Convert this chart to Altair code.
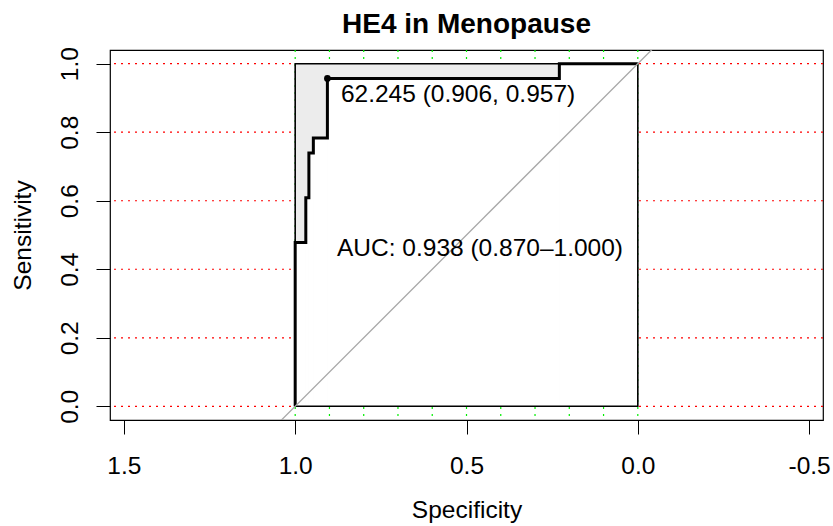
import altair as alt
import pandas as pd

# ROC curve (specificity, sensitivity) step points
spec = [1.0, 1.0, 0.969, 0.969, 0.960, 0.960, 0.947, 0.947, 0.906, 0.906, 0.229, 0.229, 0.0]
sens = [0.0, 0.478, 0.478, 0.609, 0.609, 0.739, 0.739, 0.783, 0.783, 0.957, 0.957, 1.0, 1.0]

# best threshold
thr_spec = [0.906]
thr_sens = [0.957]
thr_label = ["62.245 (0.906, 0.957)"]

# AUC annotation
auc_x = [0.878]
auc_y = [0.439]
auc_label = ["AUC: 0.938 (0.870\u20131.000)"]

# grid
grid_h = [0.0, 0.2, 0.4, 0.6, 0.8, 1.0]
grid_v = [0.0, 0.1, 0.2, 0.3, 0.4, 0.5, 0.6, 0.7, 0.8, 0.9, 1.0]

# axis ticks
x_ticks = [1.5, 1.0, 0.5, 0.0, -0.5]
y_ticks = [0.0, 0.2, 0.4, 0.6, 0.8, 1.0]

# square of max AUC
sq_x = [1.0]
sq_x2 = [0.0]
sq_y = [0.0]
sq_y2 = [1.0]

# diagonal reference line (sens = 1 - spec)
diag_x = [1.6, -0.6]
diag_y = [-0.6, 1.6]

FONT = "Liberation Sans"
FS = 24.5

xs = alt.Scale(domain=[-0.5405, 1.5405], reverse=True, nice=False, zero=False)
ys = alt.Scale(domain=[-0.04, 1.04], nice=False, zero=False)

curve_df = pd.DataFrame({"x": spec, "y": sens, "idx": list(range(len(spec)))})

# under-curve region as steps built from the curve's horizontal segments
seg_rows = []
for i in range(len(spec) - 1):
    if sens[i] == sens[i + 1] and spec[i] != spec[i + 1]:
        seg_rows.append({"x": spec[i], "x2": spec[i + 1], "y": 0.0, "y2": sens[i]})
seg_df = pd.DataFrame(seg_rows)

x_axis = alt.Axis(
    values=x_ticks, grid=False, domain=False, ticks=True, tickSize=14, tickColor="black", tickWidth=1,
    labelExpr="datum.value < 0 ? '-' + format(-datum.value, '.1f') : format(datum.value, '.1f')",
    labelFont=FONT, labelFontSize=FS, labelColor="black", labelBaseline="alphabetic", labelPadding=39,
    labelOverlap=False, labelFlush=False, labelBound=False,
    title="Specificity", titleFont=FONT, titleFontSize=FS, titleFontWeight="normal", titleColor="black",
    titleX=356.5, titleY=97, titleBaseline="alphabetic", titleAlign="center",
)
y_axis = alt.Axis(
    values=y_ticks, grid=False, domain=False, ticks=True, tickSize=14, tickColor="black", tickWidth=1,
    format=".1f", labelAngle=270, labelAlign="center", labelBaseline="alphabetic", labelPadding=19,
    labelFont=FONT, labelFontSize=FS, labelColor="black", labelOverlap=False, labelFlush=False, labelBound=False,
    title="Sensitivity", titleFont=FONT, titleFontSize=FS, titleFontWeight="normal", titleColor="black",
    titleAngle=270, titleX=-80, titleY=185, titleBaseline="alphabetic", titleAlign="center",
)


def X(f="x"):
    return alt.X(f"{f}:Q", scale=xs, axis=x_axis)


def Y(f="y"):
    return alt.Y(f"{f}:Q", scale=ys, axis=y_axis)


hlines = alt.Chart(pd.DataFrame({"y": grid_h})).mark_rule(
    color="#FF0000", strokeWidth=1.2, strokeDash=[2, 5]
).encode(y=Y())

vlines = alt.Chart(pd.DataFrame({"x": grid_v})).mark_rule(
    color="#00EE00", strokeWidth=1.2, strokeDash=[2, 5]
).encode(x=X())

sq_df = pd.DataFrame({"x": sq_x, "x2": sq_x2, "y": sq_y, "y2": sq_y2})
square_fill = alt.Chart(sq_df).mark_rect(fill="#ECECEC", strokeWidth=0, opacity=1).encode(
    x=X(), x2="x2:Q", y=Y(), y2="y2:Q",
)

auc_area = alt.Chart(seg_df).mark_rect(fill="white", stroke="white", strokeWidth=0.6, opacity=1).encode(
    x=X(), x2="x2:Q", y=Y(), y2="y2:Q",
)

square_line = alt.Chart(sq_df).mark_rect(fillOpacity=0, stroke="black", strokeWidth=1.6).encode(
    x=X(), x2="x2:Q", y=Y(), y2="y2:Q",
)

curve = alt.Chart(curve_df).mark_line(color="black", strokeWidth=3, interpolate="linear").encode(
    x=X(), y=Y(), order="idx:Q",
)

diag = alt.Chart(pd.DataFrame({"x": diag_x, "y": diag_y})).mark_line(
    color="#A8A8A8", strokeWidth=1.3, clip=True
).encode(x=X(), y=Y())

thr_df = pd.DataFrame({"x": thr_spec, "y": thr_sens, "label": thr_label})
thr_pt = alt.Chart(thr_df).mark_circle(color="black", size=45, opacity=1).encode(x=X(), y=Y())
thr_txt = alt.Chart(thr_df).mark_text(
    align="left", baseline="alphabetic", dx=13.5, dy=24, font=FONT, fontSize=FS, color="black"
).encode(x=X(), y=Y(), text="label:N")

auc_txt = alt.Chart(pd.DataFrame({"x": auc_x, "y": auc_y, "label": auc_label})).mark_text(
    align="left", baseline="alphabetic", font=FONT, fontSize=FS, color="black"
).encode(x=X(), y=Y(), text="label:N")

chart = alt.layer(
    hlines, vlines, square_fill, auc_area, square_line, curve, diag, thr_pt, thr_txt, auc_txt
).properties(
    width=713,
    height=370,
    title=alt.TitleParams(
        "HE4 in Menopause", font=FONT, fontSize=28, fontWeight="bold", color="black",
        anchor="middle", frame="group", baseline="alphabetic", offset=18, dy=32,
    ),
    padding={"left": 110, "top": 50, "right": 10, "bottom": 106},
    autosize=alt.AutoSizeParams(type="none"),
    background="white",
).configure_view(stroke="black", strokeWidth=1.2)

chart.save("out.html", embed_options={"renderer": "svg", "actions": False})
